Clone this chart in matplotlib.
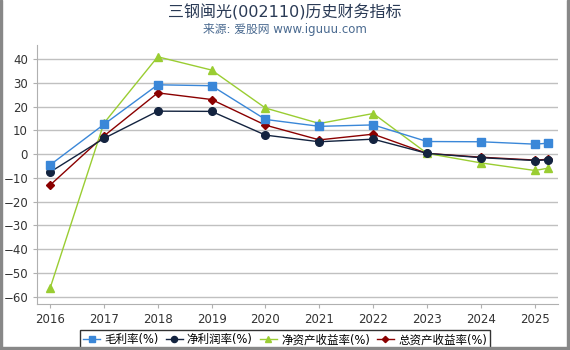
import matplotlib
matplotlib.use("Agg")
import matplotlib.pyplot as plt
from matplotlib.patches import Rectangle

plt.rcParams['font.family'] = ['DejaVu Sans', 'Noto Sans CJK SC']

x = [2016, 2017, 2018, 2019, 2020, 2021, 2022, 2023, 2024, 2025, 2025.25]
year_ticks = [2016, 2017, 2018, 2019, 2020, 2021, 2022, 2023, 2024, 2025]
gross_margin = [-4.6, 12.5, 29.2, 28.8, 14.6, 11.7, 12.3, 5.3, 5.2, 4.2, 4.6]
net_margin = [-7.6, 6.6, 18.1, 18.0, 8.0, 5.2, 6.3, 0.3, -1.5, -2.7, -2.4]
roe = [-56.6, 13.0, 41.0, 35.4, 19.4, 12.9, 17.1, 0.3, -3.7, -6.9, -5.9]
roa = [-13.1, 7.6, 25.8, 23.0, 12.2, 6.0, 8.4, 0.3, -1.3, -2.5, -2.2]
labels = ['毛利率(%)', '净利润率(%)', '净资产收益率(%)', '总资产收益率(%)']
y_ticks = [-60, -50, -40, -30, -20, -10, 0, 10, 20, 30, 40]

fig = plt.figure(figsize=(5.7, 3.5), dpi=100)
ax = fig.add_axes([0.065, 0.131, 0.914, 0.740])

series = [
    (gross_margin, '#3a87d8', 's', 5.5, 4),
    (net_margin, '#13233f', 'o', 5.5, 3),
    (roe, '#9acd32', '^', 6, 2),
    (roa, '#8b0000', 'D', 4, 1),
]
handles = []
for (vals, col, mk, ms, z), lab in zip(series, labels):
    h, = ax.plot(x, vals, color=col, marker=mk, markersize=ms, linewidth=1.0,
                 label=lab, zorder=z)
    handles.append(h)

ax.set_xlim(2015.76, 2025.43)
ax.set_ylim(-63.2, 45.9)
ax.set_xticks(year_ticks)
ax.set_xticklabels([str(t) for t in year_ticks])
ax.set_yticks(y_ticks)
ax.yaxis.grid(True, color='#c0c0c0', linewidth=1)
ax.set_axisbelow(True)
for s in ['top', 'right']:
    ax.spines[s].set_visible(False)
for s in ['left', 'bottom']:
    ax.spines[s].set_color('#b0b0b0')
ax.tick_params(axis='both', labelsize=8.5, colors='#333333', length=3, color='#b0b0b0')

fig.text(0.5, 0.965, '三钢闽光(002110)历史财务指标', ha='center', va='center',
         fontsize=11.5, color='#2a3a55')
fig.text(0.5, 0.917, '来源: 爱股网 www.iguuu.com', ha='center', va='center',
         fontsize=8.5, color='#4a6a90')

leg = fig.legend(handles=handles, loc='center', bbox_to_anchor=(0.5, 0.029),
                 ncol=4, fontsize=8.3, frameon=True, fancybox=False,
                 edgecolor='black', handlelength=1.5, handletextpad=0.35,
                 columnspacing=0.6, borderpad=0.25, markerscale=0.8)
leg.get_frame().set_linewidth(1.0)

# outer gray border (left, right, bottom)
fig.add_artist(Rectangle((0, 0), 0.004, 1, transform=fig.transFigure, color='#888888', zorder=10))
fig.add_artist(Rectangle((0.995, 0), 0.005, 1, transform=fig.transFigure, color='#888888', zorder=10))
fig.add_artist(Rectangle((0, 0), 1, 0.008, transform=fig.transFigure, color='#888888', zorder=10))

fig.savefig('out.png', dpi=100)
